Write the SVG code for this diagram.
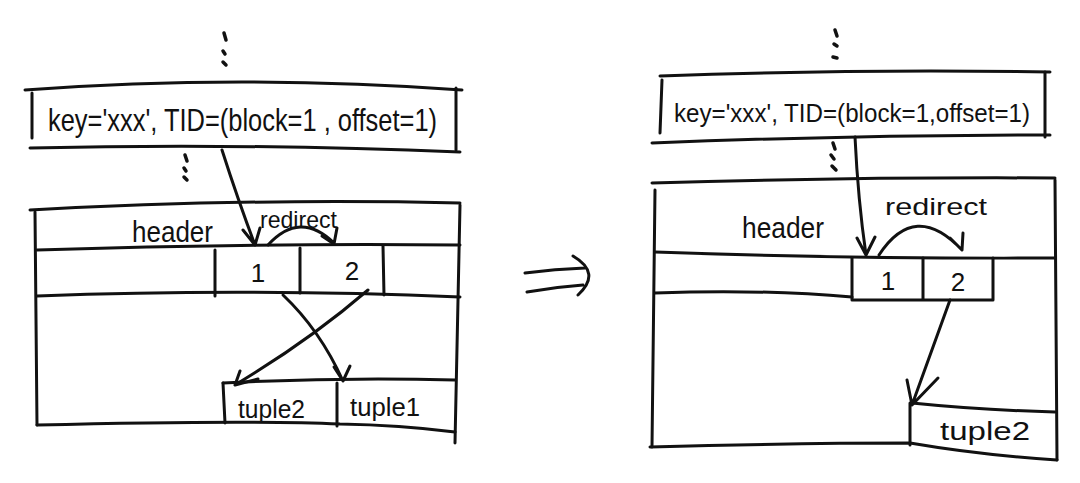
<svg xmlns="http://www.w3.org/2000/svg" width="1080" height="483" viewBox="0 0 1080 483">
<style>
.s{fill:none;stroke:#111;stroke-width:3;stroke-linecap:round;stroke-linejoin:round}
.d{fill:none;stroke:#111;stroke-width:3.5;stroke-linecap:round}
text{font-family:"Liberation Sans",Arial,sans-serif;fill:#111}
.k{font-size:32px}
.k2{font-size:26px}
.h{font-size:30px}
.n{font-size:26px}
.t{font-size:26px}
.r{font-size:24px}
</style>
<rect width="1080" height="483" fill="#fff"/>

<g id="left-dots-top">
<path class="d" d="M224,33 L226,40 M223,51 L225,54 M223,62 L226,65"/>
</g>
<g id="left-key">
<path class="s" d="M25,90 Q240,74 462,90"/>
<path class="s" d="M32,93 L32,138"/>
<path class="s" d="M456,88 L456,150"/>
<path class="s" d="M30,148 Q240,143 460,152"/>
<text class="k" x="48" y="131" textLength="389" lengthAdjust="spacingAndGlyphs">key='xxx', TID=(block=1 , offset=1)</text>
</g>
<g id="left-dots-mid">
<path class="d" d="M185,155 L187,161 M184,168 L186,171 M184,177 L187,180"/>
</g>
<g id="left-page">
<path class="s" d="M30,210 Q250,198 460,203"/>
<path class="s" d="M35,212 L37,425"/>
<path class="s" d="M460,205 L455,443"/>
<path class="s" d="M37,250 Q250,243 460,245"/>
<path class="s" d="M37,296 Q250,288 460,297"/>
<path class="s" d="M215,250 L215,296 M300,248 L300,293 M383,246 L384,295"/>
<path class="s" d="M223,383 Q340,377 455,380"/>
<path class="s" d="M223,383 L225,423 M337,383 L337,426"/>
<path class="s" d="M37,425 Q250,420 340,424 Q400,425 455,432"/>
<text class="h" x="132" y="242" textLength="81" lengthAdjust="spacingAndGlyphs">header</text>
<text class="n" x="258" y="282" text-anchor="middle">1</text>
<text class="n" x="352" y="280" text-anchor="middle">2</text>
<text class="t" x="238" y="418" textLength="67" lengthAdjust="spacingAndGlyphs">tuple2</text>
<text class="t" x="350" y="416" textLength="70" lengthAdjust="spacingAndGlyphs">tuple1</text>
<text class="r" x="260" y="228" textLength="77" lengthAdjust="spacingAndGlyphs">redirect</text>
</g>

<g id="transform-arrow">
<path class="s" d="M525,273 Q555,269 585,268 M527,292 Q555,287 583,285 M573,256 Q602,273 578,295"/>
</g>

<g id="right-dots-top">
<path class="d" d="M835,30 L837,36 M834,44 L837,46 M833,57 L837,58"/>
</g>
<g id="right-key">
<path class="s" d="M660,76 Q850,69 1050,72"/>
<path class="s" d="M662,80 L660,133"/>
<path class="s" d="M1045,72 L1045,137"/>
<path class="s" d="M652,143 Q850,135 1050,135"/>
<text class="k2" x="674" y="122" textLength="356" lengthAdjust="spacingAndGlyphs">key='xxx', TID=(block=1,offset=1)</text>
</g>
<g id="right-dots-mid">
<path class="d" d="M833,143 L835,149 M831,155 L834,159 M832,166 L836,170"/>
</g>
<g id="right-page">
<path class="s" d="M652,183 Q850,177 1055,178"/>
<path class="s" d="M655,190 L652,447"/>
<path class="s" d="M1055,180 L1057,460"/>
<path class="s" d="M655,252 Q850,259 1055,258"/>
<path class="s" d="M655,293 Q760,289 852,297"/>
<path class="s" d="M852,258 L852,300 M923,258 L923,300 M993,258 L993,300 M852,300 L993,300"/>
<path class="s" d="M912,403 Q980,410 1055,412"/>
<path class="s" d="M910,403 L910,445"/>
<path class="s" d="M650,447 Q800,443 910,443 Q980,455 1057,460"/>
<text class="h" x="742" y="238" textLength="82" lengthAdjust="spacingAndGlyphs">header</text>
<text class="n" x="888" y="290" text-anchor="middle">1</text>
<text class="n" x="958" y="291" text-anchor="middle">2</text>
<text class="t" x="940" y="440" textLength="90" lengthAdjust="spacingAndGlyphs">tuple2</text>
<text class="r" x="885" y="215" font-size="28" textLength="102" lengthAdjust="spacingAndGlyphs">redirect</text>
</g>

<g id="connectors">
<path class="s" d="M222,150 Q238,200 255,245 M243,230 L255,245 L260,228"/>
<path class="s" d="M268,245 Q300,210 334,243 M322,236 L334,244 L337,228"/>
<path class="s" d="M283,295 Q320,330 343,381 M334,367 L343,381 L350,366"/>
<path class="s" d="M368,290 Q310,340 235,385 M240,371 L235,385 L258,379"/>
<path class="s" d="M855,137 Q858,200 866,255 M857,238 L866,255 L875,237"/>
<path class="s" d="M879,255 Q915,200 962,250 M950,238 L962,250 L963,233"/>
<path class="s" d="M950,300 L912,405 M907,380 L912,405 L938,378"/>
</g>
</svg>
